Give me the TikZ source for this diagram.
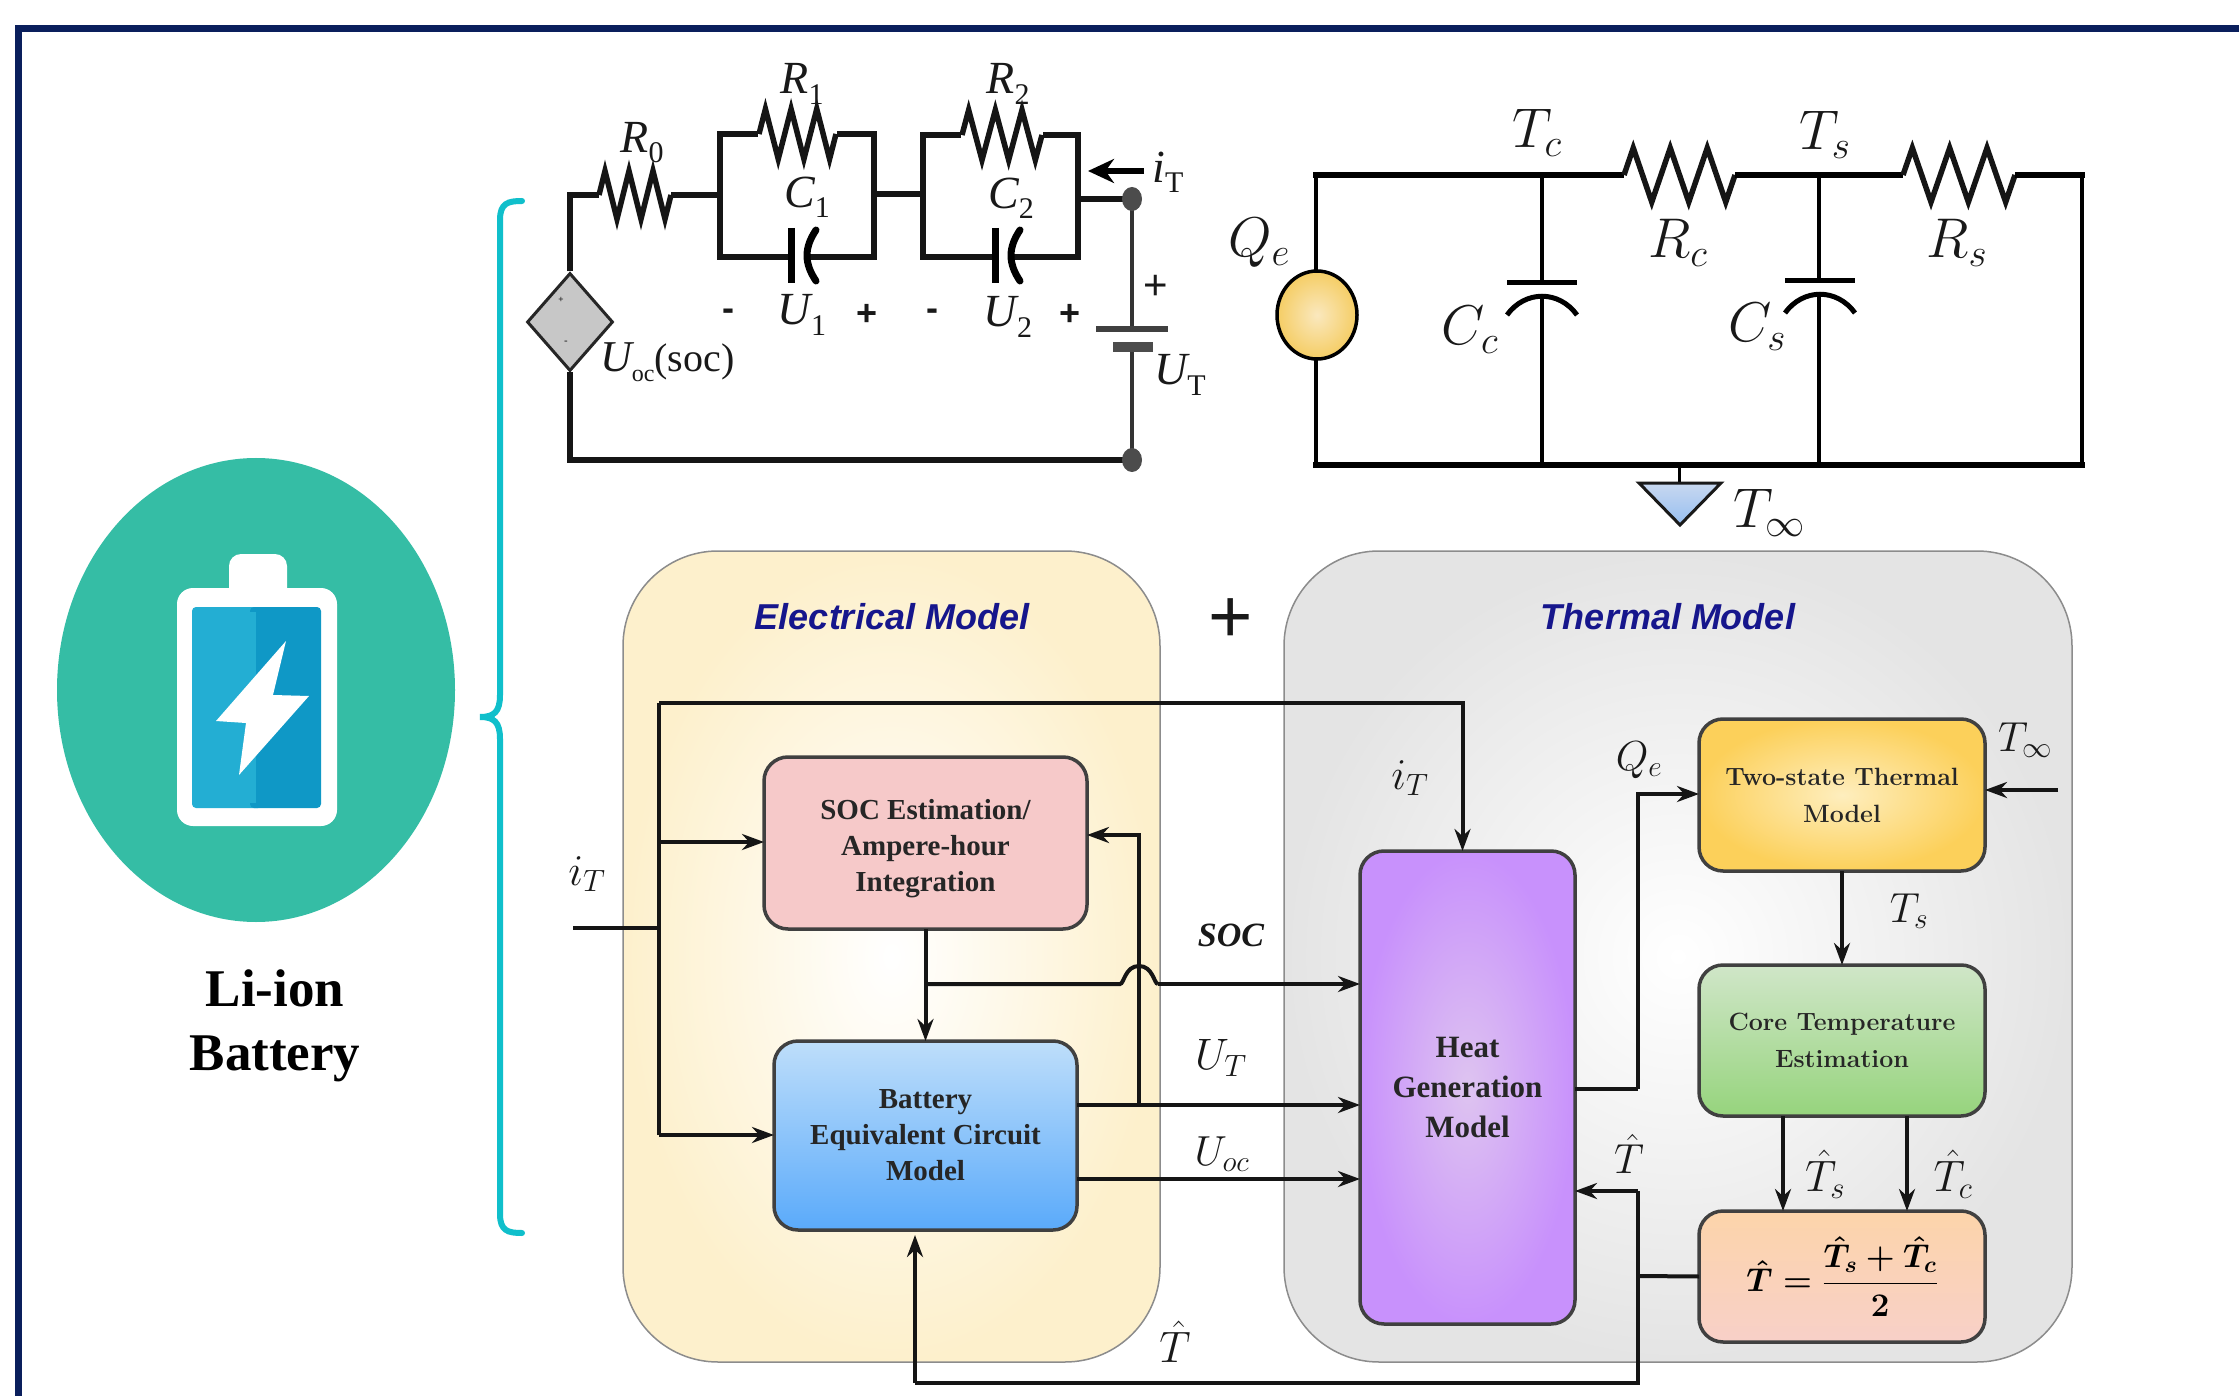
\RequirePackage{fix-cm}
\documentclass[tikz,border=0pt]{standalone}
\usepackage{fontspec}
\usetikzlibrary{arrows.meta,shapes.geometric,calc}
\newfontfamily\tnr{Liberation Serif}
\newfontfamily\arial{Liberation Sans}
\newcommand{\fsz}[1]{\fontsize{#1}{#1}\selectfont}
\newcommand{\linesz}[2]{\fontsize{#1}{#2}\selectfont}
\definecolor{framec}{HTML}{0A1F5C}
\definecolor{teal1}{HTML}{35BDA5}
\definecolor{brace}{HTML}{10BFCB}
\definecolor{wire}{HTML}{151515}
\definecolor{titleb}{HTML}{16168C}
\newcommand{\resistor}[4]{%
 \pgfmathsetmacro{\rw}{(#2-#1)/12}%
 \pgfmathsetmacro{\ru}{#3-#4}%
 \pgfmathsetmacro{\rd}{#3+#4}%
 \draw[cw,line join=miter] (#1,#3) -- ({#1+\rw},\ru) -- ({#1+3*\rw},\rd) -- ({#1+5*\rw},\ru) -- ({#1+7*\rw},\rd) -- ({#1+9*\rw},\ru) -- ({#1+11*\rw},\rd) -- (#2,#3);}
\newcommand{\ser}[2]{{\tnr\itshape #1}\raisebox{-0.22em}{\tnr\fontsize{30}{30}\selectfont #2}}
\tikzset{
 cw/.style={line width=5.5pt,draw=wire},
 fw/.style={line width=4pt,draw=wire},
 arr/.style={line width=4pt,draw=wire,-{Stealth[length=22pt,width=16pt]}},
 block/.style={draw=black!75,line width=3.5pt,rounded corners=24pt,align=center,outer sep=0pt,inner sep=0pt},
 model/.style={draw=black!45,line width=1.5pt,rounded corners=95pt,outer sep=0pt,inner sep=0pt},
 lab/.style={inner sep=0pt,outer sep=0pt,text=black!90},
 blocktext/.style={text=black!85,font=\tnr\bfseries\linesz{29}{36}},
 cmtext/.style={text=black!85,font=\bfseries\linesz{25}{37}},
}
\begin{document}
\begin{tikzpicture}[x=1pt,y=-1pt]
\useasboundingbox (0,0) rectangle (2239,1396);
\fill[white] (0,0) rectangle (2239,1396);
\draw[framec,line width=7pt] (18.5,1396) -- (18.5,28.5) -- (2239,28.5);
% battery icon
\node[ellipse,fill=teal1,minimum width=398pt,minimum height=464pt,inner sep=0pt] (icon) at (256,690) {};
\fill[white,rounded corners=12pt] (229,600) -- (229,554) -- (287,554) -- (287,600) -- cycle;
\fill[white,rounded corners=16pt] (177,588) rectangle (337,826);
\fill[color={rgb,255:red,35;green,174;blue,211},rounded corners=4pt] (192,607) rectangle (262,808);
\fill[color={rgb,255:red,15;green,152;blue,198},rounded corners=4pt] (321,808) rectangle (250,607);
\fill[color={rgb,255:red,35;green,174;blue,211}] (192,612) rectangle (256,803);
\fill[white] (286,641) -- (216,721) -- (246,723) -- (239,775) -- (309,696) -- (273,695) -- cycle;
\node[lab,text=black,align=center,font=\tnr\bfseries\linesz{53}{64}] (litext) at (275,1026) {Li-ion\\Battery};
% brace
\draw[brace,line width=6pt,line cap=round] (522,201) .. controls (508,201) and (500,203) .. (500,220) -- (500,695) .. controls (500,712) and (494,717) .. (480,717) .. controls (494,717) and (500,722) .. (500,739) -- (500,1214) .. controls (500,1231) and (508,1233) .. (522,1233);
% electrical circuit
\node[diamond,draw=black!85,line width=3pt,fill=black!22,minimum width=86pt,minimum height=98pt,inner sep=0pt,aspect=0.9] (src) at (570,322) {};
\node[lab,font=\arial\fsz{9}] (srcp) at (561,300) {+};
\node[lab,font=\arial\fsz{11}] (srcm) at (566,343) {-};
\coordinate (tl) at (570,195); \coordinate (bn) at (1132,460); \coordinate (tn) at (1132,199);
\draw[cw] (src.north) -- (tl) -- (599,195);
\resistor{599}{671}{195}{24}
\draw[cw] (671,195) -- (720,195);
\draw[cw] (720,134) rectangle (874,257);
\fill[white] (758,128) rectangle (837,140);
\resistor{759}{836}{134}{25}
\draw[cw] (874,194) -- (923,194);
\draw[cw] (923,135) rectangle (1078,257);
\fill[white] (961,129) rectangle (1043,141);
\resistor{962}{1042}{135}{25}
\fill[white] (794,250) rectangle (808,264);
\draw[line width=7pt] (791,228) -- (791,283);
\draw[line width=7pt,line cap=round] (816,230) .. controls (804,248) and (804,263) .. (816,281);
\fill[white] (998,250) rectangle (1012,264);
\draw[line width=7pt] (995,228) -- (995,283);
\draw[line width=7pt,line cap=round] (1020,230) .. controls (1008,248) and (1008,263) .. (1020,281);
\draw[cw] (1078,199) -- (tn);
\draw[line width=3.5pt,draw=black!80] (tn) -- (1132,329);
\draw[line width=6pt,draw=black!75] (1096,329) -- (1168,329);
\draw[line width=10pt,draw=black!70] (1113,347) -- (1153,347);
\draw[line width=3.5pt,draw=black!80] (1132,352) -- (bn);
\draw[cw] (src.south) -- (570,460) -- (bn);
\fill[black!70] (tn) ellipse (10pt and 12pt);
\fill[black!70] (bn) ellipse (10pt and 12pt);
\draw[line width=6pt,draw=black,-{Stealth[length=26pt,width=24pt]}] (1144,171) -- (1088,171);
\node[lab,font=\fsz{46}] (r0) at (642,143) {\ser{R}{0}};
\node[lab,font=\fsz{46}] (r1) at (802,84) {\ser{R}{1}};
\node[lab,font=\fsz{46}] (r2) at (1008,84) {\ser{R}{2}};
\node[lab,font=\fsz{46}] (c1) at (807,197) {\ser{C}{1}};
\node[lab,font=\fsz{46}] (c2) at (1011,198) {\ser{C}{2}};
\node[lab,font=\fsz{46}] (u1) at (802,315) {\ser{U}{1}};
\node[lab,font=\fsz{46}] (u2) at (1008,317) {\ser{U}{2}};
\node[lab,font=\arial\bfseries\fsz{36}] (m1) at (728,315) {-};
\node[lab,font=\arial\bfseries\fsz{36}] (p1) at (867,315) {+};
\node[lab,font=\arial\bfseries\fsz{36}] (m2) at (932,315) {-};
\node[lab,font=\arial\bfseries\fsz{36}] (p2) at (1070,315) {+};
\node[lab,font=\arial\fsz{42}] (p3) at (1156,287) {+};
\node[lab,font=\fsz{46}] (ut) at (1180,375) {\ser{U}{T}};
\node[lab,font=\fsz{46}] (it) at (1168,172) {\ser{i}{T}};
\node[lab,font=\fsz{44},anchor=west] (uoc) at (600,362) {{\tnr\itshape U}\raisebox{-0.22em}{\tnr\fontsize{24}{24}\selectfont oc}{\tnr\fontsize{40}{40}\selectfont(soc)}};
% thermal circuit
\coordinate (tlc) at (1316,175); \coordinate (blc) at (1316,465); \coordinate (brc) at (2082,465); \coordinate (trc) at (2082,175);
\coordinate (tcn) at (1542,175); \coordinate (tsn) at (1819,175); \coordinate (gnd) at (1679,465);
\draw[line width=4pt,draw=black] (tcn) -- (1542,283);
\draw[line width=4pt,draw=black] (1542,297) -- (1542,465);
\draw[line width=4pt,draw=black] (tsn) -- (1819,281);
\draw[line width=4pt,draw=black] (1819,296) -- (1819,465);
\draw[line width=5pt,draw=black] (1507,283) -- (1577,283);
\draw[line width=5pt,draw=black] (1507,315) .. controls (1525,290) and (1559,290) .. (1577,315);
\draw[line width=5pt,draw=black] (1785,281) -- (1855,281);
\draw[line width=5pt,draw=black] (1785,313) .. controls (1803,288) and (1837,288) .. (1855,313);
\draw[line width=4pt,draw=black] (1316,175) -- (1316,465);
\draw[line width=4pt,draw=black] (2082,175) -- (2082,465);
\draw[line width=6pt,draw=black] (1313,465) -- (2085,465);
\draw[line width=6pt,draw=black] (1313,175) -- (1624,175);
\resistor{1624}{1735}{175}{27}
\draw[line width=6pt,draw=black] (1735,175) -- (1903,175);
\resistor{1903}{2015}{175}{27}
\draw[line width=6pt,draw=black] (2015,175) -- (2085,175);
\node[ellipse,draw=black,line width=3.5pt,inner color={rgb,255:red,250;green,232;blue,190},outer color={rgb,255:red,245;green,205;blue,100},minimum width=80pt,minimum height=88pt,inner sep=0pt] (qe) at (1317,315) {};
\draw[line width=3pt,draw=black] (gnd) -- (1679,483);
\draw[line width=3pt,draw=black!90,top color={rgb,255:red,200;green,216;blue,240},bottom color={rgb,255:red,150;green,190;blue,240}] (1639,483) -- (1721,483) -- (1680,525) -- cycle;
\node[lab,font=\fsz{56}] (ltc) at (1537,133) {$T_c$};
\node[lab,font=\fsz{56}] (lts) at (1825,135) {$T_s$};
\node[lab,font=\fsz{56}] (lrc) at (1678,243) {$R_c$};
\node[lab,font=\fsz{56}] (lrs) at (1957,243) {$R_s$};
\node[lab,font=\fsz{56}] (lqe) at (1259,243) {$Q_e$};
\node[lab,font=\fsz{56}] (lcc) at (1470,330) {$C_c$};
\node[lab,font=\fsz{56}] (lcs) at (1757,327) {$C_s$};
\node[lab,font=\fsz{56}] (lti) at (1769,513) {$T_\infty$};
% model panels
\node[model,inner color=white,outer color={rgb,255:red,253;green,240;blue,204},minimum width=537pt,minimum height=811pt] (emodel) at (891.5,956.5) {};
\node[model,inner color=white,outer color={rgb,255:red,228;green,228;blue,228},minimum width=788pt,minimum height=811pt] (tmodel) at (1678,956.5) {};
\node[lab,text=titleb,font=\arial\bfseries\itshape\fsz{36}] (etitle) at (892,617) {Electrical Model};
\node[lab,text=titleb,font=\arial\bfseries\itshape\fsz{36}] (ttitle) at (1668,617) {Thermal Model};
\node[lab,font=\arial\fsz{76}] (plus) at (1231,621) {+};
% blocks
\node[block,blocktext,fill={rgb,255:red,246;green,201;blue,201},minimum width=323pt,minimum height=172pt] (soc) at (925.5,843) {\rule{0pt}{32pt}SOC Estimation/\\Ampere-hour\\Integration};
\node[block,blocktext,top color={rgb,255:red,190;green,222;blue,250},bottom color={rgb,255:red,90;green,170;blue,250},minimum width=303pt,minimum height=189pt] (bat) at (925.5,1135.5) {Battery\\Equivalent Circuit\\Model};
\node[block,blocktext,font=\tnr\bfseries\linesz{31}{40},inner color={rgb,255:red,222;green,196;blue,240},outer color={rgb,255:red,200;green,145;blue,252},minimum width=215pt,minimum height=473pt] (heat) at (1467.5,1087.5) {Heat\\Generation\\Model};
\node[block,cmtext,inner color={rgb,255:red,254;green,238;blue,190},outer color={rgb,255:red,252;green,208;blue,90},minimum width=286pt,minimum height=152pt] (two) at (1842,795) {Two-state Thermal\\Model};
\node[block,cmtext,top color={rgb,255:red,208;green,230;blue,200},bottom color={rgb,255:red,150;green,212;blue,125},minimum width=286pt,minimum height=151pt] (core) at (1842,1040.5) {Core Temperature\\Estimation};
\node[block,top color={rgb,255:red,252;green,212;blue,170},bottom color={rgb,255:red,248;green,208;blue,200},minimum width=286pt,minimum height=131pt,font=\fsz{33}] (avg) at (1842,1276.5) {{\boldmath$\displaystyle \hat{T}=\frac{\hat{T}_s+\hat{T}_c}{2}$}};
% connectors
\coordinate (itin) at (573,928); \coordinate (bus) at (659,928);
\coordinate (bustop) at (659,703); \coordinate (busbot) at (659,1135); \coordinate (bussoc) at (659,842);
\coordinate (socj) at (925,984); \coordinate (utj) at (1139,1105);
\coordinate (jumpa) at (1120,984); \coordinate (jumpb) at (1158,984);
\coordinate (hatb) at (1638,1383); \coordinate (hatl) at (915,1383); \coordinate (hath) at (1638,1191); \coordinate (hatj) at (1638,1276);
\coordinate (qej) at (1638,1089); \coordinate (qet) at (1638,794); \coordinate (tinfin) at (2058,790);
\draw[fw] (itin) -- (bus);
\draw[fw] (busbot) -- (bustop);
\draw[arr] (bustop) -| ($(heat.north)+(-5,0)$);
\draw[arr] (bussoc) -- (bussoc -| soc.west);
\draw[arr] (busbot) -- (busbot -| bat.west);
\draw[arr] (soc.south) -- (bat.north);
\draw[fw] (socj) -- (jumpa) .. controls (1124,984) and (1125,966) .. (1139,966) .. controls (1153,966) and (1154,984) .. (jumpb);
\draw[arr] (jumpb) -- (jumpb -| heat.west);
\draw[arr] (bat.east |- utj) -- (utj -| heat.west);
\draw[arr] (utj) |- (soc.east |- 1139,835);
\draw[arr] (bat.east |- 0,1179) -- (heat.west |- 0,1179);
\draw[fw] (avg.west) -- (hatj);
\draw[fw] (hath) -- (hatb) -- (hatl);
\draw[arr] (hatl) -- (915,1235);
\draw[arr] (hath) -- (hath -| heat.east);
\draw[fw] (heat.east |- qej) -- (qej);
\draw[arr] (qej) -- (qet) -- (qet -| two.west);
\draw[arr] (tinfin) -- (tinfin -| two.east);
\draw[arr] (two.south) -- (core.north);
\draw[arr] (core.south -| 1783,0) -- (avg.north -| 1783,0);
\draw[arr] (core.south -| 1907,0) -- (avg.north -| 1907,0);
% signal labels
\node[lab,font=\fsz{44}] (l1) at (587,874) {$i_T$};
\node[lab,font=\fsz{44}] (l2) at (1410,778) {$i_T$};
\node[lab,font=\tnr\bfseries\itshape\fsz{34}] (l3) at (1231,935) {SOC};
\node[lab,font=\fsz{44}] (l4) at (1221,1058) {$U_T$};
\node[lab,font=\fsz{42}] (l5) at (1222,1154) {$U_{oc}$};
\node[lab,font=\fsz{44}] (l6) at (1175,1342) {$\hat{T}$};
\node[lab,font=\fsz{42}] (l7) at (1639,760) {$Q_e$};
\node[lab,font=\fsz{42}] (l8) at (2025,740) {$T_\infty$};
\node[lab,font=\fsz{42}] (l9) at (1909,911) {$T_s$};
\node[lab,font=\fsz{42}] (l10) at (1629,1154) {$\hat{T}$};
\node[lab,font=\fsz{44}] (l11) at (1825,1174) {$\hat{T}_s$};
\node[lab,font=\fsz{44}] (l12) at (1953,1174) {$\hat{T}_c$};
\end{tikzpicture}
\end{document}
